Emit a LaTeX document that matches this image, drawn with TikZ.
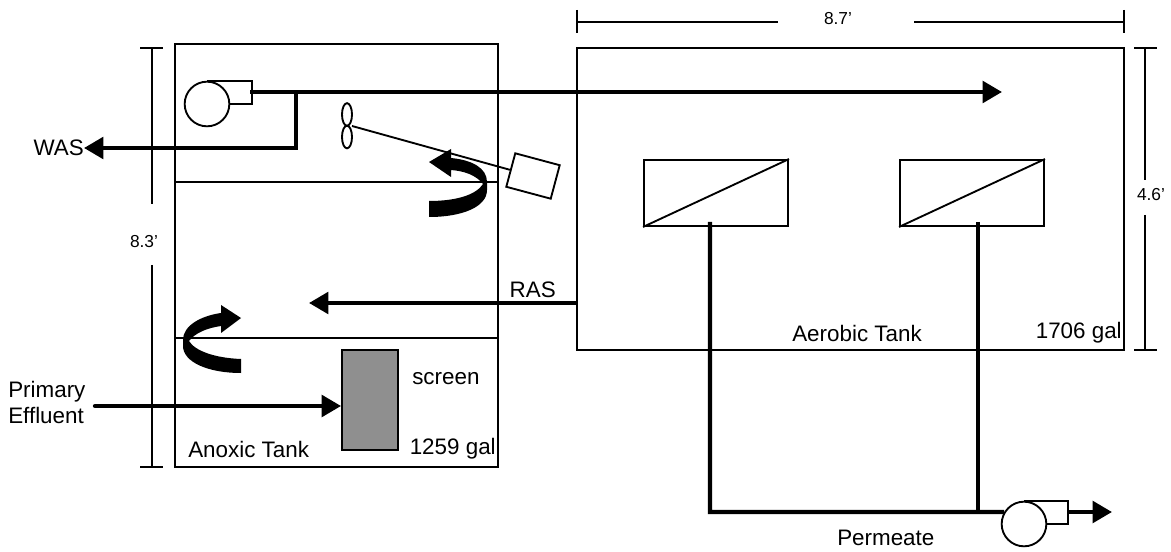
\documentclass[tikz,border=0pt]{standalone}
\usepackage{fontspec}
\setmainfont{Liberation Sans}
\definecolor{ScreenGray}{RGB}{143,143,143}
\usetikzlibrary{arrows.meta,positioning,calc,shapes.geometric}
\tikzset{
  tank/.style={draw,line width=1.4pt,inner sep=0pt},
  label/.style={inner sep=0pt,font=\fontsize{16.8}{20}\selectfont,align=left},
  dimlabel/.style={inner sep=0pt,font=\fontsize{13}{15}\selectfont},
  pipe/.style={line width=3.2pt},
  flow/.style={pipe,-{Triangle[length=14.5pt,width=16pt]}},
  thin/.style={line width=1.4pt},
  swirl/.style={fill=black,draw=none}
}
\begin{document}
\begin{tikzpicture}[x=0.75pt,y=-0.75pt]
\useasboundingbox (0,0) rectangle (1171,552);
% tanks
\node[tank,minimum width=242.25pt,minimum height=317.25pt] (anoxic) at (336.5,255.5) {};
\node[tank,minimum width=410.25pt,minimum height=226.5pt] (aerobic) at (850.5,199) {};
\coordinate (zoneA) at (175,182);
\coordinate (zoneB) at (175,338);
\draw[thin] (zoneA) -- (zoneA -| anoxic.east);
\draw[thin] (zoneB) -- (zoneB -| anoxic.east);
% membranes
\node[tank,minimum width=108pt,minimum height=49.5pt] (memA) at (716,193) {};
\node[tank,minimum width=108pt,minimum height=49.5pt] (memB) at (972,193) {};
\draw[thin] (memA.south west) -- (memA.north east);
\draw[thin] (memB.south west) -- (memB.north east);
% screen
\node[tank,fill=ScreenGray,minimum width=42pt,minimum height=75pt] (screen) at (370,400) {};
% pumps
\node[tank,circle,fill=white,minimum size=33.5pt] (pumpA) at (207,104) {};
\node[tank,circle,fill=white,minimum size=33.5pt] (pumpB) at (1024,524) {};
\coordinate (pumpAout) at (252,92);
\coordinate (pumpBout) at (1068,512);
\draw[thin] (pumpA.north) -- (pumpA.north -| pumpAout) -- (pumpAout |- pumpA.east) -- (pumpA.east);
\draw[thin] (pumpB.north) -- (pumpB.north -| pumpBout) -- (pumpBout |- pumpB.east) -- (pumpB.east);
% mixer
\node[tank,ellipse,minimum width=7.5pt,minimum height=17pt] (fanA) at (347,114.5) {};
\node[tank,ellipse,minimum width=7.5pt,minimum height=17pt] (fanB) at (347,137) {};
\coordinate (fanHub) at (352,126);
\node[tank,rotate=-15,minimum width=34.5pt,minimum height=26pt] (motor) at (533,176) {};
\draw[thin] (fanHub) -- (motor.west);
% pipes
\coordinate (airStart) at (250,92);
\coordinate (airEnd) at (1002,92);
\coordinate (wasTee) at (296,92);
\coordinate (wasBend) at (296,148);
\node[label,anchor=east] (was) at (84,148) {WAS};
\draw[flow] (airStart) -- (airEnd);
\draw[flow] (wasTee) -- (wasBend) -- (was.east);
\coordinate (rasEnd) at (309,303);
\draw[flow] (rasEnd -| aerobic.west) -- (rasEnd);
\node[label,anchor=east] (ras) at (556,290) {RAS};
\node[label,anchor=west] (primary) at (8,402.5) {Primary\\Effluent};
\coordinate (primaryStart) at (95,406);
\draw[flow,line cap=round] (primaryStart) -- (primaryStart -| screen.west);
\coordinate (permBendA) at (710,512);
\coordinate (permTee) at (978,512);
\coordinate (memAtap) at (710,222);
\coordinate (memBtap) at (978,222);
\draw[pipe] (memAtap) -- (permBendA) -- (pumpB.149);
\draw[pipe] (memBtap) -- (permTee);
\coordinate (permEnd) at (1112,512);
\draw[flow] (pumpBout) -- (permEnd);
% swirls
\fill[swirl] (429,162) -- (451,149) -- (451,158) .. controls (472,160) and (487,168) .. (487,182) -- (487,190) .. controls (487,207) and (462,217) .. (429,217) -- (429,201) .. controls (456,201) and (476,195) .. (483,184) .. controls (476,175) and (464,171) .. (451,170) -- (451,177) -- cycle;
\fill[swirl] (241,318) -- (221,305) -- (221,313) .. controls (200,316) and (183,326) .. (183,340) -- (183,346) .. controls (183,362) and (208,373) .. (241,373) -- (241,359) .. controls (215,358) and (195,351) .. (189,341) .. controls (195,333) and (207,328) .. (221,326) -- (221,333) -- cycle;
% dimensions
\node[dimlabel] (dimTop) at (838,19) {8.7'};
\node[dimlabel] (dimLeft) at (144,242) {8.3'};
\node[dimlabel] (dimRight) at (1151,195) {4.6'};
\draw[thin] (577,10) -- (577,33) (577,22) -- (778,22);
\draw[thin] (914,22) -- (1124,22) (1124,10) -- (1124,33);
\draw[thin] (140,48) -- (163,48) (152,48) -- (152,204);
\draw[thin] (152,265) -- (152,467) (140,467) -- (163,467);
\draw[thin] (1134,48) -- (1157,48) (1145,48) -- (1145,180);
\draw[thin] (1145,215) -- (1145,350) (1134,350) -- (1157,350);
% labels
\node[label,anchor=west] (anoxLabel) at (188,449) {Anoxic Tank};
\node[label,anchor=east] (anoxVol) at (496,449) {1259 gal};
\node[label,anchor=west] (screenLabel) at (412,379) {screen};
\node[label,anchor=west] (aerLabel) at (792,333) {Aerobic Tank};
\node[label,anchor=east] (aerVol) at (1122,333) {1706 gal};
\node[label,anchor=west] (permLabel) at (837,538) {Permeate};
\end{tikzpicture}
\end{document}
